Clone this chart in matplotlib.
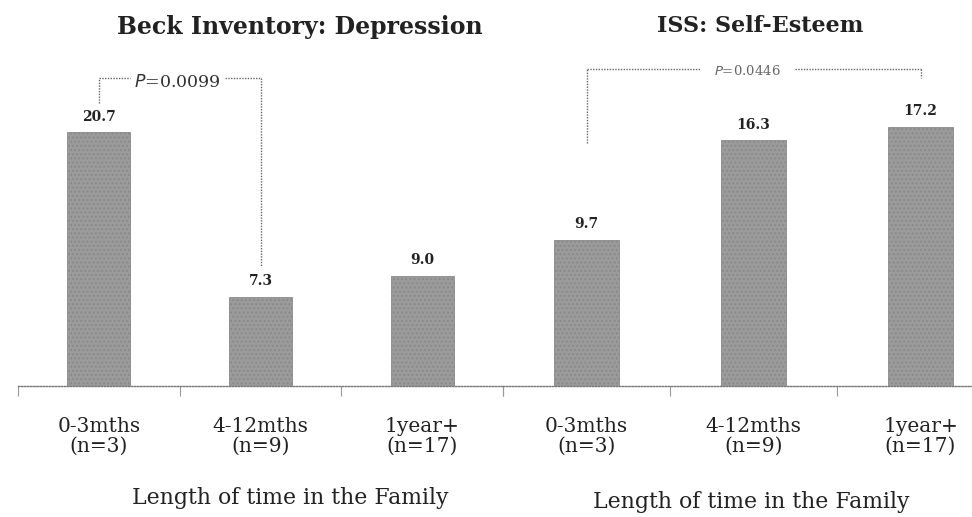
import matplotlib
matplotlib.use("Agg")
import matplotlib.pyplot as plt

# ---- data ----
categories = ["0-3mths\n(n=3)", "4-12mths\n(n=9)", "1year+\n(n=17)"]
beck_values = [20.7, 7.3, 9.0]
iss_values = [9.7, 16.3, 17.2]
beck_labels = ["20.7", "7.3", "9.0"]
iss_labels = ["9.7", "16.3", "17.2"]
beck_title = "Beck Inventory: Depression"
iss_title = "ISS: Self-Esteem"
xlabel = "Length of time in the Family"
beck_p = "0.0099"
iss_p = "0.0446"

FONT = "DejaVu Serif"
plt.rcParams["font.family"] = [FONT]

W, H = 972, 517
fig = plt.figure(figsize=(W / 100, H / 100), dpi=100)

base_px = 386
axL = fig.add_axes([18 / W, 1 - base_px / H, (503 - 18) / W, base_px / H])
axR = fig.add_axes([503 / W, 1 - base_px / H, (972 - 503) / W, base_px / H])

bar_color = "#9b9b9b"
x = list(range(len(categories)))

for ax, vals, labs, ylim, xr in [
    (axL, beck_values, beck_labels, 31.5, 2.5),
    (axR, iss_values, iss_labels, 25.6, 2.308),
]:
    ax.bar(x, vals, width=0.39, color=bar_color, edgecolor="#8a8a8a", linewidth=0.6,
           hatch="....", zorder=2)
    ax.set_xlim(-0.5, xr)
    ax.set_ylim(0, ylim)
    ax.patch.set_alpha(0)
    for s in ["top", "right", "left"]:
        ax.spines[s].set_visible(False)
    ax.spines["bottom"].set_linestyle((0, (1, 1.2)))
    ax.spines["bottom"].set_color("#777777")
    ax.spines["bottom"].set_linewidth(1.0)
    ax.set_yticks([])
    ax.set_xticks(x)
    ax.set_xticklabels(categories, fontsize=14.5, linespacing=1.1, color="#222222")
    ax.tick_params(axis="x", which="major", length=0, pad=22)
    ax.set_xticks([i - 0.5 for i in x] + ([2.5] if xr >= 2.5 else []), minor=True)
    ax.tick_params(axis="x", which="minor", length=7, width=0.8, color="#999999",
                   direction="out")
    for xi, v, lab in zip(x, vals, labs):
        ax.annotate(lab, (xi, v), xytext=(0, 11), textcoords="offset points",
                    ha="center", va="center", fontsize=10, fontweight="bold",
                    color="#222222")

# ---- brackets ----
dot = dict(color="#666666", linewidth=1.0, linestyle=(0, (1, 1)), clip_on=False)
# left: between bar 0 and bar 1
yb = 25.1
axL.plot([0, 0], [23.1, yb], **dot)
axL.plot([0, 0.19], [yb, yb], **dot)
axL.plot([0.78, 1], [yb, yb], **dot)
axL.plot([1, 1], [yb, beck_values[1] + 2.4], **dot)
axL.text(0.485, yb - 0.35, "$\\it{P}$=" + beck_p, ha="center", va="center",
         fontsize=12.5, color="#333333")

# right: between bar 0 and bar 2
yr = 21.0
axR.plot([0, 0], [iss_values[0] + 6.4, yr], **dot)
axR.plot([0, 0.68], [yr, yr], **dot)
axR.plot([1.25, 2], [yr, yr], **dot)
axR.plot([2, 2], [yr, yr - 0.55], **dot)
axR.text(0.965, yr - 0.1, "$\\it{P}$=" + iss_p, ha="center", va="center",
         fontsize=9.5, color="#666666")

# ---- titles & axis labels ----
fig.text(300 / W, 1 - 27 / H, beck_title, ha="center", va="center",
         fontsize=17, fontweight="bold", color="#222222")
fig.text(760 / W, 1 - 26 / H, iss_title, ha="center", va="center",
         fontsize=16, fontweight="bold", color="#222222")
fig.text(290 / W, 1 - 498 / H, xlabel, ha="center", va="center",
         fontsize=15.8, color="#222222")
fig.text(751 / W, 1 - 502 / H, xlabel, ha="center", va="center",
         fontsize=15.8, color="#222222")

fig.savefig("out.png", dpi=100)
